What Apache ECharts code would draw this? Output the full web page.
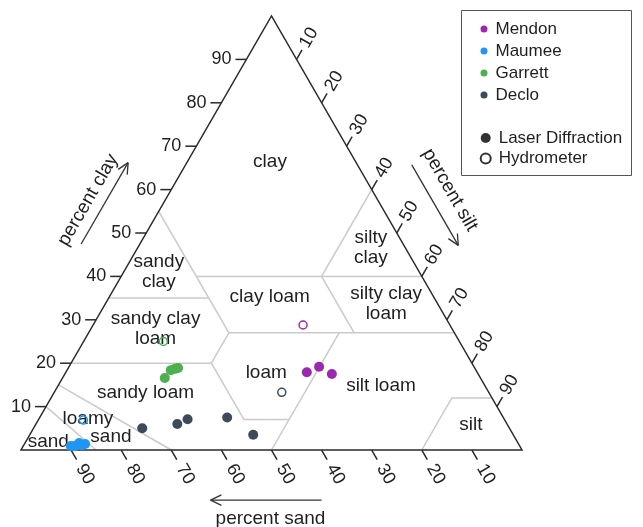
<!DOCTYPE html>
<html>
<head>
<meta charset="utf-8">
<title>Soil texture triangle</title>
<script src="https://cdn.jsdelivr.net/npm/echarts@6/dist/echarts.min.js"></script>
<style>
  html, body { margin: 0; padding: 0; background: #ffffff; }
  #chart { width: 643px; height: 527px; }
</style>
</head>
<body>
<div id="chart"></div>
<script>
// Particle-size composition of each sample as [sand, silt, clay] in percent
const mendonLaser  = [[34.0, 48.1, 17.9], [30.9, 49.9, 19.2], [29.2, 53.3, 17.5]];
const mendonHydro  = [[29.3, 41.9, 28.8]];
const maumeeLaser  = [[89.6, 9.5, 0.9], [88.8, 10.3, 0.9], [87.6, 10.8, 1.6], [87.3, 11.6, 1.1], [86.5, 12.1, 1.4]];
const maumeeHydro  = [[84.1, 9.0, 6.9]];
const garrettLaser = [[63.0, 20.4, 16.6], [60.9, 20.7, 18.4], [59.9, 21.4, 18.7], [59.2, 21.9, 18.9]];
const garrettHydro = [[59.1, 15.9, 25.0]];
const decloLaser   = [[73.3, 21.7, 5.0], [65.8, 28.2, 6.0], [63.2, 29.7, 7.1], [55.1, 37.4, 7.5], [51.9, 44.6, 3.5]];
const decloHydro   = [[41.3, 45.4, 13.3]];

// Tick values shared by the three percentage axes
const tickValues = [10, 20, 30, 40, 50, 60, 70, 80, 90];

// USDA texture class boundaries, each a polyline of [sand, silt, clay] vertices
const textureBoundaries = [
  [[45, 0, 55], [45, 28, 27]],
  [[65, 0, 35], [45, 20, 35]],
  [[45, 15, 40], [0, 60, 40]],
  [[45, 28, 27], [0, 73, 27]],
  [[20, 40, 40], [0, 40, 60]],
  [[20, 40, 40], [20, 53, 27]],
  [[80, 0, 20], [52, 28, 20]],
  [[52, 28, 20], [45, 28, 27]],
  [[52, 28, 20], [52, 41, 7], [43, 50, 7]],
  [[23, 50, 27], [50, 50, 0]],
  [[20, 80, 0], [8, 80, 12], [0, 88, 12]],
  [[85, 15, 0], [90, 0, 10]],
  [[70, 30, 0], [85, 0, 15]]
];

// Texture class names and where each is written, as [silt, clay]
const textureNames = ['clay', 'sandy\nclay', 'clay loam', 'silty\nclay', 'silty clay\nloam', 'sandy clay\nloam',
                      'loam', 'silt loam', 'sandy loam', 'loamy', 'sand', 'sand', 'silt'];
const textureNameAt = [[16.5, 66.4], [7.0, 41.0], [32.0, 35.3], [46.6, 46.5], [56.1, 33.6], [12.9, 27.9],
                       [40.1, 17.7], [64.5, 14.7], [18.3, 13.1], [9.8, 7.1], [16.4, 3.1], [4.5, 1.9], [86.9, 5.8]];

const COLORS = { Mendon: '#9c27b0', Maumee: '#2196f3', Garrett: '#4caf50', Declo: '#3d4a5c' };
const FONT = "'Liberation Sans', Arial, Helvetica, sans-serif";
const INK = '#1f1f1f';
const H = Math.sqrt(3) / 2;

// Ternary [sand, silt, clay] -> plot units (x along the base, y up toward the clay apex)
function toPlot(t) {
  return [t[1] + t[2] / 2, t[2] * H];
}

function segment(p, dir, from, to, color, width) {
  return {
    type: 'line',
    shape: { x1: p[0] + dir[0] * from, y1: p[1] + dir[1] * from, x2: p[0] + dir[0] * to, y2: p[1] + dir[1] * to },
    style: { stroke: color, lineWidth: width }
  };
}

function label(text, x, y, rotation, align, size) {
  return {
    type: 'text', x: x, y: y, rotation: rotation,
    style: { text: text, fill: INK, font: size + 'px ' + FONT, align: align, verticalAlign: 'middle', lineHeight: size + 1 }
  };
}

function arrow(start, dir, len) {
  const end = [start[0] + dir[0] * len, start[1] + dir[1] * len];
  const back = [-dir[0], -dir[1]];
  const rot = a => [back[0] * Math.cos(a) - back[1] * Math.sin(a), back[0] * Math.sin(a) + back[1] * Math.cos(a)];
  const out = [segment(start, dir, 0, len, '#333', 1.3)];
  [0.45, -0.45].forEach(a => out.push(segment(end, rot(a), 0, 12, '#333', 1.3)));
  return out;
}

function renderFrame(params, api) {
  const P = t => api.coord(toPlot(t));
  const Q = xy => api.coord(xy);
  const children = [];

  textureBoundaries.forEach(line => {
    children.push({ type: 'polyline', shape: { points: line.map(P) }, style: { stroke: '#cacaca', lineWidth: 1.5, fill: null } });
  });

  children.push({
    type: 'polygon',
    shape: { points: [P([100, 0, 0]), P([0, 100, 0]), P([0, 0, 100])] },
    style: { stroke: '#2a2a2a', lineWidth: 1.5, fill: null }
  });

  const TICK = 11;
  const upRight = [0.5, -H];
  const downRight = [0.5, H];
  tickValues.forEach(v => {
    // clay along the left edge
    let p = P([100 - v, 0, v]);
    children.push(segment(p, [-1, 0], 0, TICK, '#2a2a2a', 1.5));
    children.push(label(String(v), p[0] - 15, p[1], 0, 'right', 18));
    // silt along the right edge
    p = P([0, v, 100 - v]);
    children.push(segment(p, upRight, 0, TICK, '#2a2a2a', 1.5));
    children.push(label(String(v), p[0] + upRight[0] * 25, p[1] + upRight[1] * 25, Math.PI / 3, 'center', 18));
    // sand along the base
    p = P([v, 100 - v, 0]);
    children.push(segment(p, downRight, 0, TICK, '#2a2a2a', 1.5));
    children.push(label(String(v), p[0] + downRight[0] * 28, p[1] + downRight[1] * 28, -Math.PI / 3, 'center', 18));
  });

  textureNames.forEach((name, i) => {
    const sc = textureNameAt[i];
    const p = P([100 - sc[0] - sc[1], sc[0], sc[1]]);
    children.push(label(name, p[0], p[1], 0, 'center', 19));
  });

  // axis titles with direction arrows
  let c = Q([13.4, 49.9]);
  children.push(label('percent clay', c[0], c[1], Math.PI / 3, 'center', 19));
  arrow(Q([12.0, 41.1]), upRight, 94).forEach(e => children.push(e));

  c = Q([85.6, 51.9]);
  children.push(label('percent silt', c[0], c[1], -Math.PI / 3, 'center', 19));
  arrow(Q([78.0, 56.9]), downRight, 93).forEach(e => children.push(e));

  c = Q([49.8, -13.8]);
  children.push(label('percent sand', c[0], c[1], 0, 'center', 19));
  arrow(Q([60.0, -10.0]), [-1, 0], 111).forEach(e => children.push(e));

  return { type: 'group', children: children };
}

function laser(name, data) {
  return { type: 'scatter', name: name, data: data.map(toPlot), symbol: 'circle', symbolSize: 10, clip: false, z: 4,
           itemStyle: { color: COLORS[name], opacity: 1 } };
}
function hydro(name, data) {
  return { type: 'scatter', name: name, data: data.map(toPlot), symbol: 'circle', symbolSize: 8, clip: false, z: 4,
           itemStyle: { color: 'rgba(255,255,255,0)', borderColor: COLORS[name], borderWidth: 1.5, opacity: 1 } };
}

const chart = echarts.init(document.getElementById('chart'), null, { renderer: 'canvas' });
chart.setOption({
  animation: false,
  backgroundColor: '#ffffff',
  grid: { left: 21, top: 16, width: 501, height: 434 },
  xAxis: { type: 'value', min: 0, max: 100, show: false },
  yAxis: { type: 'value', min: 0, max: 100 * H, show: false },
  legend: [
    {
      orient: 'vertical', left: 480.5, top: 20.5, padding: 0, itemGap: 5, itemWidth: 13, itemHeight: 7,
      selectedMode: false, icon: 'circle',
      textStyle: { fontSize: 17, color: INK, fontFamily: FONT },
      data: ['Mendon', 'Maumee', 'Garrett', 'Declo'].map(n => ({ name: n, itemStyle: { color: COLORS[n], borderWidth: 0 } }))
    },
    {
      orient: 'vertical', left: 479.7, top: 129.5, padding: 0, itemGap: 3.6, itemWidth: 16, itemHeight: 10,
      selectedMode: false, icon: 'circle',
      textStyle: { fontSize: 17, color: INK, fontFamily: FONT },
      data: [
        { name: 'Laser Diffraction', itemStyle: { color: '#000000', borderWidth: 0 } },
        { name: 'Hydrometer', itemStyle: { color: '#ffffff', borderColor: '#000000', borderWidth: 2 } }
      ]
    }
  ],
  graphic: [{
    type: 'rect', shape: { x: 461.5, y: 10.5, width: 170, height: 165 },
    style: { fill: null, stroke: '#555', lineWidth: 1 }
  }],
  series: [
    { type: 'custom', name: 'frame', coordinateSystem: 'cartesian2d', clip: false, silent: true, z: 1,
      data: [[0, 0]], renderItem: renderFrame },
    laser('Mendon', mendonLaser), hydro('Mendon', mendonHydro),
    laser('Maumee', maumeeLaser), hydro('Maumee', maumeeHydro),
    laser('Garrett', garrettLaser), hydro('Garrett', garrettHydro),
    laser('Declo', decloLaser), hydro('Declo', decloHydro),
    { type: 'scatter', name: 'Laser Diffraction', data: [], itemStyle: { color: '#000' } },
    { type: 'scatter', name: 'Hydrometer', data: [], itemStyle: { color: '#fff', borderColor: '#000', borderWidth: 2 } }
  ]
});
</script>
</body>
</html>
